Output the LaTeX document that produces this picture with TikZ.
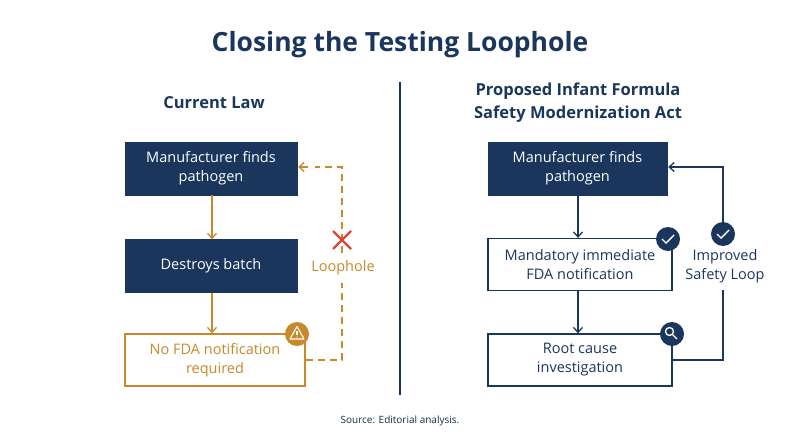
\documentclass[tikz,border=0pt]{standalone}
\usepackage{fontspec}
\setmainfont{Open Sans}
\usetikzlibrary{arrows.meta}
\definecolor{navy}{HTML}{1B365D}
\definecolor{org}{HTML}{C8892B}
\definecolor{rd}{HTML}{D9453A}
\begin{document}
\begin{tikzpicture}[x=1pt,y=-1pt,
  fill box/.style={draw=navy,fill=navy,text=white,minimum height=53pt,align=center,font=\fontsize{14.5}{19}\selectfont,inner sep=2pt},
  line box/.style={draw=#1,line width=1.3pt,fill=white,text=#1,minimum height=52pt,align=center,font=\fontsize{14.5}{19}\selectfont,inner sep=2pt},
  arr/.style={-{Straight Barb[length=5pt,width=9pt]},line width=1.3pt,draw=#1},
  badge/.style={circle,fill=#1,minimum size=24pt,inner sep=0pt,text=white},
  lbl/.style={font=\fontsize{14.5}{19}\selectfont,align=center}]
\useasboundingbox (0,0) rectangle (800,447);
\node[font=\bfseries\fontsize{26.5}{30}\selectfont,text=navy] (title) at (400,45) {Closing the Testing Loophole};
\node[font=\bfseries\fontsize{16.5}{19}\selectfont,text=navy] (lt) at (214,103) {Current Law};
\node[font=\bfseries\fontsize{16.5}{23}\selectfont,text=navy,align=center] (rt) at (578,103) {Proposed Infant Formula\\Safety Modernization Act};
\coordinate (d1) at (400,82); \coordinate (d2) at (400,395);
\draw[navy,line width=1.3pt] (d1) -- (d2);
% left
\node[fill box,minimum width=172pt] (l1) at (211,168.5) {Manufacturer finds\\pathogen};
\node[fill box,minimum width=172pt] (l2) at (211,266) {Destroys batch};
\node[line box=org,minimum width=180pt] (l3) at (215,360) {No FDA notification\\required};
\draw[arr=org] (l1.south -| 212,0) -- (l2.north -| 212,0);
\draw[arr=org] (l2.south -| 212,0) -- (l3.north -| 212,0);
\node[badge=org] (w) at (297,334) {};
\draw[white,line width=1.1pt,line join=round] (297,326.5) -- (304,339) -- (290,339) -- cycle;
\draw[white,line width=1.1pt] (297,330.5) -- (297,335);
\fill[white] (297,337) circle (0.7pt);
\coordinate (lc1) at (342,360); \coordinate (lc2) at (342,283);
\coordinate (lc3) at (342,253); \coordinate (lc4) at (342,167);
\coordinate (lc5) at (315,167);
\draw[org,line width=1.3pt,dash pattern=on 7pt off 5pt] (l3.east) -- (lc1) -- (lc2);
\draw[org,line width=1.3pt,dash pattern=on 7pt off 5pt] (lc3) -- (lc4) -- (lc5);
\draw[arr=org] ([xshift=11pt]l1.east |- lc4) -- ([xshift=1pt]l1.east |- lc4);
\draw[rd,line width=2.2pt] (333,231) -- (351,249) (351,231) -- (333,249);
\node[lbl,text=org] (lh) at (343,268) {Loophole};
% right
\node[fill box,minimum width=179pt] (r1) at (577.5,168.5) {Manufacturer finds\\pathogen};
\node[line box=navy,minimum width=184pt] (r2) at (580,264.5) {Mandatory immediate\\FDA notification};
\node[line box=navy,minimum width=184pt] (r3) at (580,360) {Root cause\\investigation};
\draw[arr=navy] (r1.south -| 578,0) -- (r2.north -| 578,0);
\draw[arr=navy] (r2.south -| 578,0) -- (r3.north -| 578,0);
\node[badge=navy] (c1) at (668,239) {};
\draw[white,line width=1.4pt] (662,239) -- (666,243) -- (674,235);
\node[badge=navy] (s1) at (672,334) {};
\draw[white,line width=1.3pt] (669.5,331.5) circle (4pt) (672.5,334.5) -- (677,339);
\coordinate (rc1) at (723,360); \coordinate (rc2) at (723,290); \coordinate (rc3) at (723,167);
\draw[navy,line width=1.3pt] (r3.east |- rc1) -- (rc1) -- (rc2);
\node[badge=navy] (c2) at (723,234) {};
\draw[white,line width=1.4pt] (717,234) -- (721,238) -- (729,230);
\draw[arr=navy] (c2) -- (rc3) -- ([xshift=1pt]r1.east |- rc3);
\node[lbl,text=navy] (isl) at (725,266) {Improved\\Safety Loop};
\node[font=\fontsize{10}{12}\selectfont,text=navy!80!black] (src) at (400,421) {Source: Editorial analysis.};
\end{tikzpicture}
\end{document}
